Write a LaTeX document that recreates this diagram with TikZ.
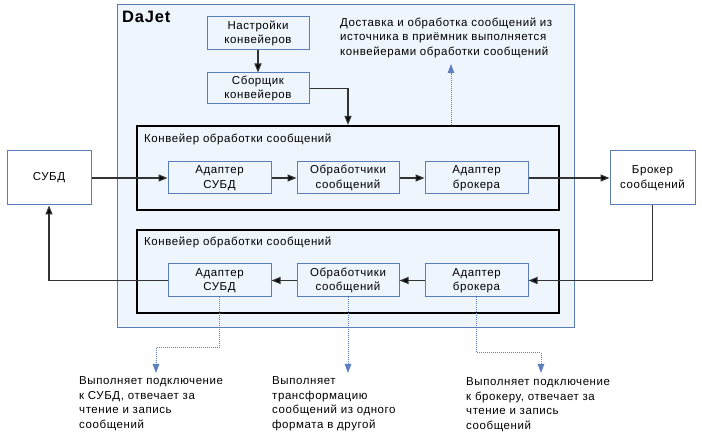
\documentclass[tikz,border=0pt]{standalone}
\usepackage{fontspec}
\setmainfont[LetterSpace=5]{Liberation Sans}
\usetikzlibrary{arrows.meta,calc}
\definecolor{bordblue}{HTML}{5A7DB8}
\definecolor{lightfill}{HTML}{EEF5FC}
\definecolor{notecol}{HTML}{5B7FBF}
\definecolor{linecol}{HTML}{333333}
\tikzset{
  txt/.style={font=\fontsize{11.5}{14.5}\selectfont},
  outerbox/.style={draw=bordblue,fill=lightfill,line width=1pt,inner sep=0pt},
  blockbox/.style={draw=bordblue,fill=lightfill,line width=1pt,align=center,inner sep=0pt,txt},
  extbox/.style={draw=bordblue,fill=white,line width=1pt,align=center,inner sep=0pt,txt},
  pipebox/.style={draw=black,fill=lightfill,line width=2.2pt,inner sep=0pt},
  conn/.style={draw=linecol,line width=1.2pt,-{Triangle[length=9pt,width=7pt,fill=black]}},
  note/.style={draw=notecol,line width=1pt,dash pattern=on 1pt off 1pt,-{Triangle[length=9pt,width=6.5pt,fill=notecol]}},
  notetext/.style={txt,align=left,anchor=north west,inner sep=0pt},
}
\begin{document}
\begin{tikzpicture}[x=1pt,y=-1pt]
\useasboundingbox (0,0) rectangle (702,443);
% outer DaJet
\node[outerbox,minimum width=457pt,minimum height=323pt] (dajet) at (345.5,166.5) {};
\node[anchor=base west,inner sep=0pt,font=\fontsize{16.5}{18}\selectfont\bfseries] (dajetlbl) at (122,22.5) {DaJet};
% settings / builder
\node[blockbox,minimum width=102pt,minimum height=33pt] (nastr) at (258,33.5) {Настройки\\конвейеров};
\node[blockbox,minimum width=102pt,minimum height=31pt] (sbor) at (258,88.5) {Сборщик\\конвейеров};
% pipelines
\node[pipebox,minimum width=422pt,minimum height=84pt] (pipe1) at (348,168) {};
\node[pipebox,minimum width=422pt,minimum height=83pt] (pipe2) at (348,271.5) {};
\node[txt,anchor=base west,inner sep=0pt] (pipe1lbl) at (144,143) {Конвейер обработки сообщений};
\node[txt,anchor=base west,inner sep=0pt] (pipe2lbl) at (144,245.5) {Конвейер обработки сообщений};
% row 1
\node[blockbox,minimum width=103pt,minimum height=32pt] (ads1) at (219.5,178) {Адаптер\\СУБД};
\node[blockbox,minimum width=102pt,minimum height=32pt] (obr1) at (348,178) {Обработчики\\сообщений};
\node[blockbox,minimum width=103pt,minimum height=32pt] (adb1) at (476.5,178) {Адаптер\\брокера};
% row 2
\node[blockbox,minimum width=103pt,minimum height=33pt] (ads2) at (219.5,280.5) {Адаптер\\СУБД};
\node[blockbox,minimum width=102pt,minimum height=33pt] (obr2) at (348,280.5) {Обработчики\\сообщений};
\node[blockbox,minimum width=103pt,minimum height=33pt] (adb2) at (476.5,280.5) {Адаптер\\брокера};
% external
\node[extbox,minimum width=84pt,minimum height=54pt] (subd) at (49,178) {СУБД};
\node[extbox,minimum width=85pt,minimum height=54pt] (broker) at (652.5,178) {Брокер\\сообщений};
% connectors
\draw[conn] (nastr.south) -- (sbor.north);
\draw[conn] (sbor.east) -| (pipe1.north);
\draw[conn] (subd.east) -- (ads1.west);
\draw[conn] (ads1.east) -- (obr1.west);
\draw[conn] (obr1.east) -- (adb1.west);
\draw[conn] (adb1.east) -- (broker.west);
\draw[conn] (broker.south) |- (adb2.east);
\draw[conn] (adb2.west) -- (obr2.east);
\draw[conn] (obr2.west) -- (ads2.east);
\draw[conn] (ads2.west) -| (subd.south);
% notes
\node[notetext] (toptxt) at (340,17.5) {Доставка и обработка сообщений из\\источника в приёмник выполняется\\конвейерами обработки сообщений};
\node[notetext] (n1) at (79,376.5) {Выполняет подключение\\к СУБД, отвечает за\\чтение и запись\\сообщений};
\node[notetext] (n2) at (272,376.5) {Выполняет\\трансформацию\\сообщений из одного\\формата в другой};
\node[notetext] (n3) at (466,377.5) {Выполняет подключение\\к брокеру, отвечает за\\чтение и запись\\сообщений};
\coordinate (up) at (451,64);
\coordinate (k1) at (156,348);
\coordinate (t1) at (156,373);
\coordinate (t2) at (348,373);
\coordinate (k3) at (541,353);
\coordinate (t3) at (541,373);
\draw[note] (up |- pipe1.north) -- (up);
\draw[note] (ads2.south) |- (k1) -- (t1);
\draw[note] (obr2.south) -- (t2);
\draw[note] (adb2.south) |- (k3) -- (t3);
\end{tikzpicture}
\end{document}
